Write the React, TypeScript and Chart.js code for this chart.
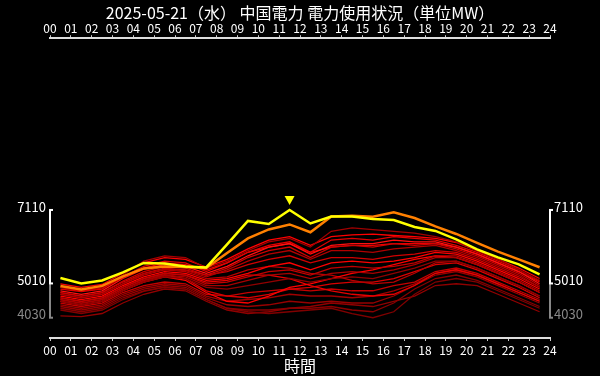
import React, { useEffect, useRef } from 'react';
import { Chart, registerables } from 'chart.js';
Chart.register(...registerables);

const TITLE = '2025-05-21（水） 中国電力 電力使用状況（単位MW）';
const X_TITLE = '時間';
const xTickLabels = ['00','01','02','03','04','05','06','07','08','09','10','11','12','13','14','15','16','17','18','19','20','21','22','23','24'];
const hourPoints = [0.5,1.5,2.5,3.5,4.5,5.5,6.5,7.5,8.5,9.5,10.5,11.5,12.5,13.5,14.5,15.5,16.5,17.5,18.5,19.5,20.5,21.5,22.5,23.5];
const yTicks = [4030, 5010, 7110];

// today (yellow)
const today = [5167,5010,5096,5324,5596,5581,5496,5467,6124,6796,6710,7110,6724,6924,6924,6853,6824,6624,6510,6267,5981,5753,5553,5267];
// comparison day (orange)
const compareDay = [4939,4839,4939,5210,5439,5496,5481,5453,5881,6296,6553,6696,6473,6924,6947,6919,7044,6881,6639,6424,6167,5919,5696,5473];

// past days (red)
const past01 = [4900,4820,4900,5250,5650,5800,5750,5450,5650,5950,6200,6300,6050,6500,6600,6550,6500,6450,6350,6200,5950,5700,5400,5100];
const past02 = [5000,4900,4980,5300,5600,5750,5700,5480,5700,6000,6250,6350,6100,6350,6400,6420,6380,6350,6300,6180,5950,5700,5450,5150];
const past03 = [4850,4780,4850,5200,5500,5650,5600,5350,5600,5900,6100,6200,5900,6250,6300,6250,6350,6300,6250,6100,5900,5650,5400,5080];
const past04 = [4800,4700,4800,5150,5420,5550,5500,5300,5500,5800,6050,6150,5850,6100,6150,6150,6250,6200,6200,6050,5850,5600,5350,5000];
const past05 = [4750,4650,4750,5080,5350,5500,5450,5250,5450,5750,5950,6050,5750,6050,6100,6050,6150,6100,6150,6000,5800,5550,5300,4950];
const past06 = [4700,4600,4700,5000,5280,5420,5380,5200,5400,5650,5850,5950,5700,5950,5950,5900,6000,6050,6100,5950,5750,5500,5250,4900];
const past07 = [4900,4800,4880,5180,5450,5600,5550,5400,5600,5900,6050,6150,5900,6050,6100,6100,6150,6150,6150,6050,5850,5600,5350,5050];
const past08 = [4750,4650,4750,5050,5300,5450,5400,5250,5350,5550,5700,5800,5600,5750,5750,5700,5800,5850,5950,5900,5700,5450,5200,4900];
const past09 = [4650,4550,4650,4950,5200,5350,5300,5100,5150,5300,5500,5600,5400,5600,5650,5600,5650,5750,5900,5850,5650,5400,5150,4850];
const past10 = [4600,4500,4600,4900,5150,5300,5250,5000,5050,5200,5350,5400,5250,5450,5500,5450,5500,5600,5800,5800,5600,5350,5100,4800];
const past11 = [4550,4450,4550,4850,5100,5250,5200,4950,4950,5100,5250,5300,5150,5300,5350,5300,5400,5550,5750,5750,5550,5300,5050,4750];
const past12 = [4500,4400,4500,4800,5050,5200,5150,4900,4850,4950,5050,5150,5050,5150,5200,5150,5300,5450,5650,5650,5450,5200,4950,4650];
const past13 = [4500,4400,4500,4800,5050,5200,5100,4750,4500,4450,4650,4900,5000,5150,5300,5400,5550,5700,5800,5750,5550,5300,5050,4750];
const past14 = [4600,4500,4600,4900,5150,5300,5250,5050,5100,5250,5250,5150,4950,4800,4700,4650,4700,4950,5300,5400,5250,5000,4750,4500];
const past15 = [4700,4600,4700,5000,5250,5400,5350,5150,5200,5400,5500,5450,5300,5250,5100,5000,5050,5300,5600,5650,5450,5200,4950,4650];
const past16 = [4550,4450,4550,4850,5100,5250,5150,4800,4650,4600,4700,4850,4900,5000,5050,5050,5150,5350,5550,5600,5400,5150,4900,4600];
const past17 = [4450,4350,4450,4750,4950,5050,5000,4700,4650,4750,4800,4850,4800,4850,4800,4800,4950,5050,5350,5450,5300,5050,4800,4550];
const past18 = [4400,4300,4400,4700,4900,5000,4950,4650,4500,4550,4600,4700,4650,4650,4600,4650,4800,5000,5300,5400,5250,5000,4750,4500];
const past19 = [4350,4250,4350,4650,4850,4950,4900,4600,4400,4350,4400,4500,4450,4500,4450,4450,4650,4950,5250,5350,5200,4950,4700,4450];
const past20 = [4300,4200,4300,4600,4800,4900,4850,4550,4300,4250,4250,4300,4300,4350,4250,4200,4450,4850,5150,5250,5100,4850,4600,4350];
const past21 = [4250,4150,4250,4550,4780,4900,4850,4550,4300,4200,4150,4200,4250,4300,4150,4030,4200,4700,5050,5150,5050,4800,4550,4300];
const past22 = [4080,4060,4150,4450,4700,4850,4800,4500,4250,4150,4200,4300,4350,4450,4400,4350,4500,4650,4950,5000,4950,4700,4450,4200];

const pastDays = [past01,past02,past03,past04,past05,past06,past07,past08,past09,past10,past11,past12,past13,past14,past15,past16,past17,past18,past19,past20,past21,past22];
const pastColors = ['#a00000','#ff0000','#e00000','#ff1010','#cc0000','#b00000','#ee0000','#d00000','#ff0000','#c00000','#a80000','#900000','#ff0000','#e80000','#b80000','#d80000','#c40000','#a00000','#980000','#880000','#800000','#900000'];
const yTickColors = ['#888888', '#ffffff', '#ffffff'];

const FONT = "'Noto Sans CJK JP', 'Noto Sans', sans-serif";

const decorPlugin = {
  id: 'decor',
  beforeDraw(chart: any) {
    const { ctx } = chart;
    ctx.save();
    ctx.fillStyle = '#000';
    ctx.fillRect(0, 0, chart.width, chart.height);
    ctx.restore();
  },
  afterDraw(chart: any) {
    const { ctx, chartArea } = chart;
    const ys = chart.scales.y;
    const xs = chart.scales.x;
    const sorted = [...yTicks].sort((a, b) => b - a);
    ctx.save();
    ctx.lineWidth = 2;
    for (const x0 of [chartArea.left, chartArea.right]) {
      for (let i = 0; i < sorted.length - 1; i++) {
        const a = ys.getPixelForValue(sorted[i]);
        const b = ys.getPixelForValue(sorted[i + 1]);
        const idx = yTicks.indexOf(sorted[i + 1]);
        ctx.strokeStyle = yTickColors[idx];
        ctx.beginPath();
        ctx.moveTo(x0, a);
        ctx.lineTo(x0, b);
        ctx.stroke();
      }
      for (let i = 0; i < yTicks.length; i++) {
        const p = ys.getPixelForValue(yTicks[i]);
        ctx.strokeStyle = yTickColors[i];
        ctx.beginPath();
        ctx.moveTo(x0 - 1, p);
        ctx.lineTo(x0 + 3, p);
        ctx.stroke();
      }
    }
    // peak marker
    let mi = 0;
    for (let i = 1; i < today.length; i++) if (today[i] > today[mi]) mi = i;
    const px = xs.getPixelForValue(hourPoints[mi]);
    const py = ys.getPixelForValue(today[mi]);
    ctx.fillStyle = '#ffff00';
    ctx.beginPath();
    ctx.moveTo(px - 5, py - 14);
    ctx.lineTo(px + 5, py - 14);
    ctx.lineTo(px, py - 5);
    ctx.closePath();
    ctx.fill();
    ctx.restore();
  },
};

function toPoints(arr: number[]) {
  return arr.map((v, i) => ({ x: hourPoints[i], y: v }));
}

export default function App() {
  const ref = useRef<HTMLCanvasElement | null>(null);
  useEffect(() => {
    if (!ref.current) return;
    Chart.defaults.font.family = FONT;
    const datasets: any[] = [
      { data: toPoints(today), borderColor: '#ffff00', borderWidth: 2.5 },
      { data: toPoints(compareDay), borderColor: '#ff8000', borderWidth: 2.5 },
      ...pastDays.map((d, i) => ({ data: toPoints(d), borderColor: pastColors[i], borderWidth: 1.3 })),
    ];
    datasets.forEach((d) => { d.pointRadius = 0; d.tension = 0; d.fill = false; });
    const xTicksCommon = {
      stepSize: 1,
      autoSkip: false,
      maxRotation: 0,
      minRotation: 0,
      color: '#ffffff',
      font: { size: 12 },
      callback: (v: any) => xTickLabels[v],
    };
    const yCommon = (pos: string) => ({
      type: 'linear',
      position: pos,
      min: 3450,
      max: 12020,
      grid: { display: false, drawTicks: false },
      border: { display: false },
      afterBuildTicks: (s: any) => { s.ticks = yTicks.map((v) => ({ value: v })); },
      afterFit: (s: any) => { s.width = 50; },
      ticks: {
        padding: 4,
        font: { size: 13, lineHeight: 0.5 },
        color: (c: any) => yTickColors[Math.max(0, yTicks.indexOf(c.tick?.value))],
        callback: (v: any) => [String(v), ''],
      },
    });
    const chart = new Chart(ref.current, {
      type: 'line',
      data: { datasets },
      plugins: [decorPlugin],
      options: {
        animation: false,
        responsive: false,
        maintainAspectRatio: false,
        layout: { padding: 0 },
        plugins: {
          legend: { display: false },
          tooltip: { enabled: false },
          title: {
            display: true,
            text: TITLE,
            color: '#ffffff',
            font: { size: 16, weight: 'normal' },
            padding: { top: 3, bottom: 0 },
          },
        },
        scales: {
          x: {
            type: 'linear',
            position: 'bottom',
            min: 0,
            max: 24,
            afterFit: (s: any) => { s.height = 38; },
            grid: { display: true, drawOnChartArea: false, color: '#cccccc', tickLength: 3, lineWidth: 1 },
            border: { display: true, color: '#dddddd', width: 2 },
            ticks: { ...xTicksCommon, padding: 2 },
            title: { display: true, text: X_TITLE, color: '#ffffff', font: { size: 16 }, padding: { top: 0, bottom: 0 } },
          },
          x2: {
            type: 'linear',
            position: 'top',
            min: 0,
            max: 24,
            afterFit: (s: any) => { s.height = 16; },
            grid: { display: true, drawOnChartArea: false, color: '#cccccc', tickLength: 3, lineWidth: 1 },
            border: { display: true, color: '#dddddd', width: 2 },
            ticks: { ...xTicksCommon, padding: 0 },
          },
          y: yCommon('left'),
          y2: yCommon('right'),
        } as any,
      } as any,
    });
    return () => chart.destroy();
  }, []);
  return (
    <div style={{ position: 'absolute', left: 0, top: 0, width: 600, height: 376, background: '#000' }}>
      <canvas ref={ref} width={600} height={376} style={{ width: 600, height: 376, display: 'block' }} />
    </div>
  );
}
